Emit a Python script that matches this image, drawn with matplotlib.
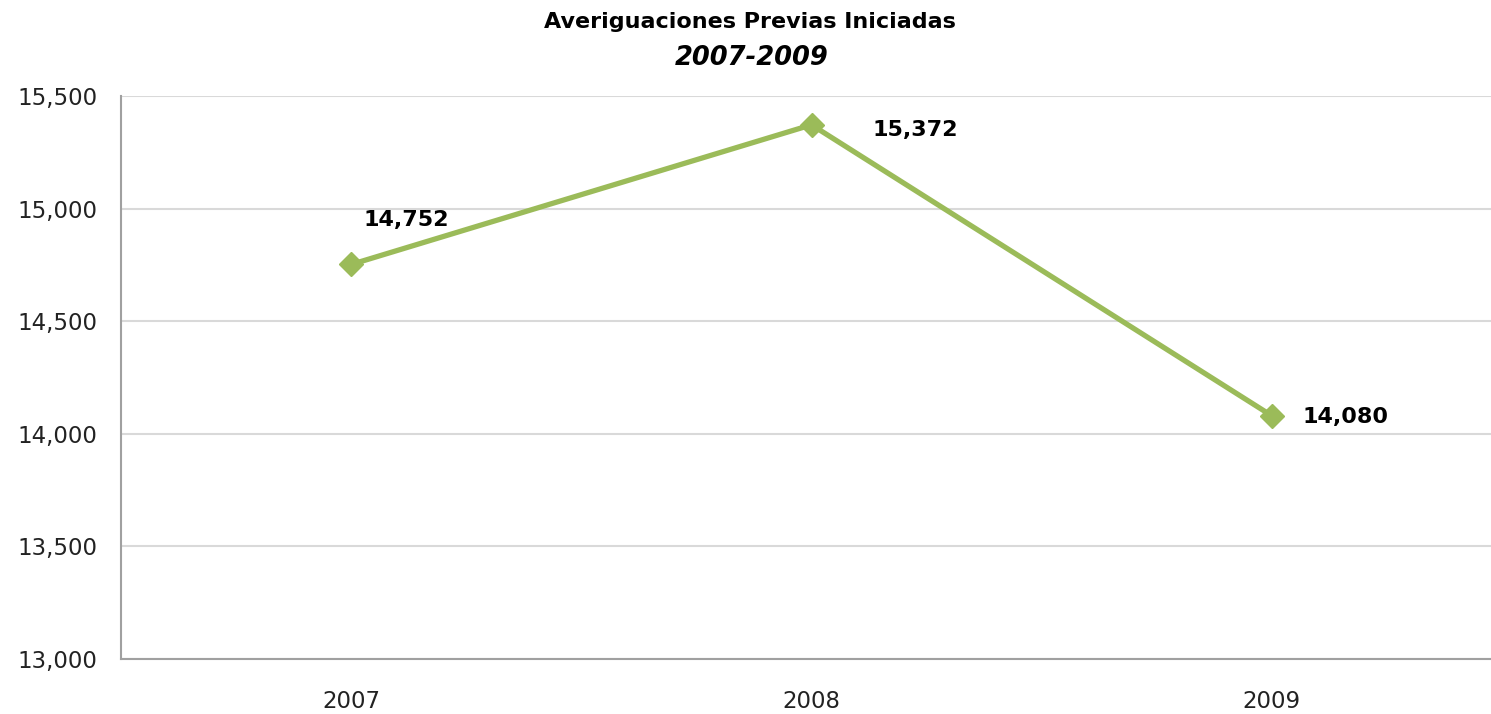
import matplotlib.pyplot as plt
import numpy as np

years = ['2007', '2008', '2009']
values = [14752, 15372, 14080]
label_offsets = [(40, 32), (75, -4), (53, -1)]  # in points

fig = plt.figure(figsize=(14.91, 7.14), dpi=100)
ax = fig.add_axes([121 / 1491, 1 - 659 / 714, (1502 - 121) / 1491, (659 - 96) / 714])

x = np.arange(len(years))
ax.plot(x, values, color='#9BBB59', linewidth=3.8, marker='D', markersize=12,
        clip_on=False, zorder=3)

for xi, v, off in zip(x, values, label_offsets):
    ax.annotate(f'{v:,}', (xi, v), xytext=off, textcoords='offset points',
                ha='center', va='center', fontsize=16, fontweight='bold')

ax.set_xlim(-0.5, 2.5)
ax.set_ylim(13000, 15500)
ax.set_yticks(np.arange(13000, 15501, 500))
ax.yaxis.set_major_formatter(plt.FuncFormatter(lambda v, p: f'{int(v):,}'))
ax.set_xticks(x)
ax.set_xticklabels(years)
ax.tick_params(axis='both', length=0, labelsize=16.5, colors='#222222')
ax.tick_params(axis='x', pad=22)
ax.tick_params(axis='y', pad=17)

ax.grid(axis='y', color='#D9D9D9', linewidth=1.5)
ax.set_axisbelow(True)
for s in ['top', 'right']:
    ax.spines[s].set_visible(False)
ax.spines['left'].set_color('#A0A0A0')
ax.spines['bottom'].set_color('#A0A0A0')
ax.spines['left'].set_linewidth(1.5)
ax.spines['bottom'].set_linewidth(1.5)

fig.text(750 / 1491, 1 - 22 / 714, 'Averiguaciones Previas Iniciadas', ha='center', va='center',
         fontsize=16, fontweight='bold')
fig.text(752 / 1491, 1 - 58 / 714, '2007-2009', ha='center', va='center',
         fontsize=18.5, fontweight='bold', style='italic')

fig.savefig('out.png', dpi=100)
